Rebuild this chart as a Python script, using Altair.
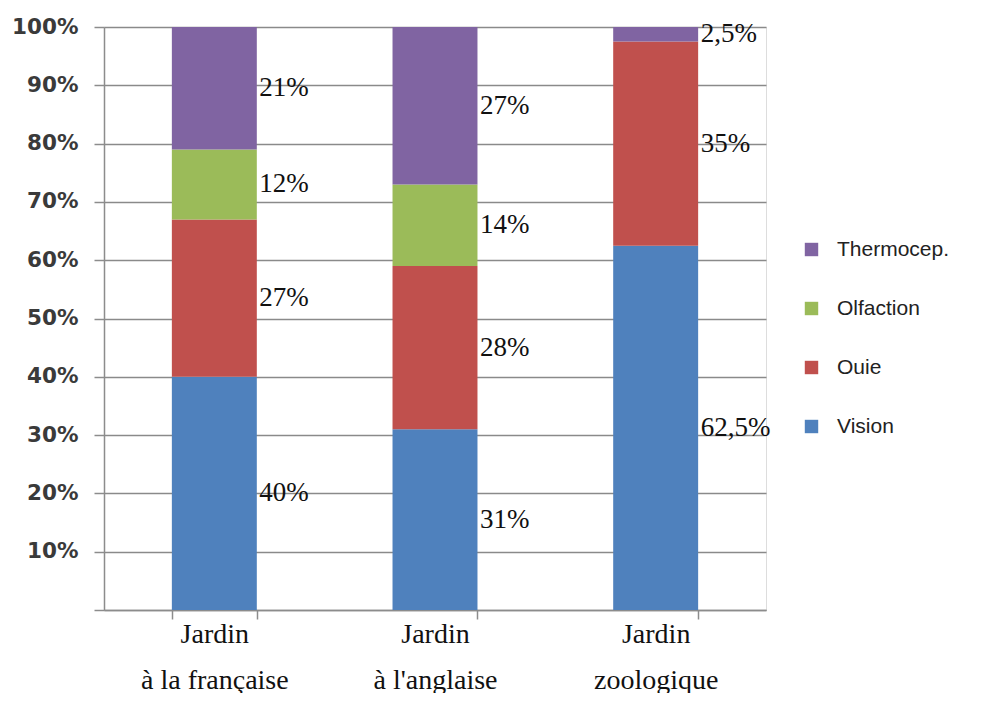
import altair as alt
import pandas as pd

categories = ["Jardin\nà la française", "Jardin\nà l'anglaise", "Jardin\nzoologique"]
series = ["Vision", "Ouie", "Olfaction", "Thermocep."]
vision = [40, 31, 62.5]
ouie = [27, 28, 35]
olfaction = [12, 14, 0]
thermo = [21, 27, 2.5]
colors = ["#4F81BD", "#C0504D", "#9BBB59", "#8064A2"]
y_ticks = [0, 10, 20, 30, 40, 50, 60, 70, 80, 90, 100]

rows = []
for ci, cat in enumerate(categories):
    for si, (s, vals) in enumerate(zip(series, [vision, ouie, olfaction, thermo])):
        v = vals[ci]
        lab = (("%g" % v).replace(".", ",") + "%") if v > 0 else ""
        rows.append({"cat": cat, "serie": s, "value": v, "ord": si, "label": lab})
df = pd.DataFrame(rows)

legend_order = list(reversed(series))
legend_colors = list(reversed(colors))

x_enc = alt.X("cat:N", sort=categories, title=None,
              scale=alt.Scale(paddingInner=0.615, paddingOuter=0.3075),
              axis=alt.Axis(labelExpr="split(datum.label, '\\n')", labelAngle=0,
                            labelFont="Liberation Serif", labelFontSize=28,
                            labelLineHeight=46, labelColor="#111",
                            tickBand="extent", tickSize=9, tickColor="#8c8c8c",
                            tickWidth=1.5, domainColor="#8c8c8c", domainWidth=1.5,
                            labelPadding=1, grid=False))

bars = alt.Chart(df).mark_bar().encode(
    x=x_enc,
    y=alt.Y("value:Q", stack="zero", title=None,
            scale=alt.Scale(domain=[0, 100], nice=False),
            axis=alt.Axis(values=y_ticks,
                          labelExpr="datum.value == 0 ? '' : datum.value + '%'",
                          labelFont="DejaVu Sans", labelFontSize=21.5,
                          labelFontWeight="bold", labelColor="#3a3a3a",
                          tickSize=10, tickColor="#8c8c8c", tickWidth=1.5,
                          domainColor="#8c8c8c", domainWidth=1.5,
                          gridColor="#8a8a8a", gridWidth=1.5, labelPadding=16)),
    color=alt.Color("serie:N", scale=alt.Scale(domain=legend_order, range=legend_colors),
                    legend=alt.Legend(title=None, orient="none", legendX=697, legendY=212,
                                      symbolType="square", symbolSize=180,
                                      symbolStrokeWidth=0, labelFont="Liberation Sans",
                                      labelFontSize=21, labelColor="#222",
                                      rowPadding=37, labelOffset=15, padding=0)),
    order=alt.Order("ord:Q", sort="ascending"),
)

labels = alt.Chart(df).transform_filter("datum.value > 0").transform_window(
    cum="sum(value)", groupby=["cat"], sort=[alt.SortField("ord", order="ascending")],
    frame=[None, 0]
).transform_calculate(
    mid="datum.cum - datum.value / 2"
).mark_text(align="left", baseline="middle", dx=45, font="Liberation Serif",
            fontSize=27, color="#111").encode(
    x=alt.X("cat:N", sort=categories),
    y=alt.Y("mid:Q"),
    text="label:N",
)

chart = alt.layer(bars, labels).properties(
    width=662, height=583,
    autosize=alt.AutoSizeParams(type="none"),
    padding={"left": 96, "top": 19, "right": 208, "bottom": 83},
).configure_view(stroke=None).configure(background="white")

chart.save("out.html", embed_options={"renderer": "svg", "actions": False})
